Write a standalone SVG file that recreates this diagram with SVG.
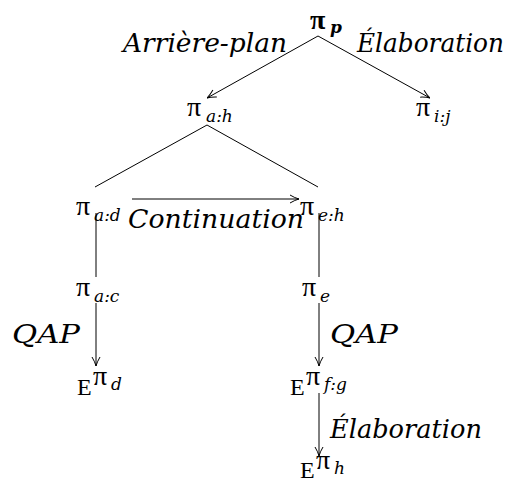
<svg xmlns="http://www.w3.org/2000/svg" width="511" height="482" viewBox="0 0 511 482">
<style>
text{font-family:'Liberation Serif','Times New Roman',serif;fill:#000}
.lab{font-family:'DejaVu Serif',serif;font-style:italic;font-size:26px}
.pi{font-size:28px}
.sub{font-family:'DejaVu Serif',serif;font-style:italic;font-size:17px}
.E{font-size:24px}
.c{stroke:#000;stroke-width:1;fill:none}
</style>
<defs>
<marker id="ah" viewBox="0 0 10 10" refX="10" refY="5" markerWidth="10" markerHeight="10" markerUnits="userSpaceOnUse" orient="auto">
<path d="M1,1 Q6,4 10,5 Q6,6 1,9" fill="none" stroke="#000" stroke-width="1"/>
</marker>
</defs>
<g id="connectors">
<line class="c" x1="318" y1="36" x2="207" y2="98" marker-end="url(#ah)"/>
<line class="c" x1="318" y1="36" x2="430" y2="98" marker-end="url(#ah)"/>
<line class="c" x1="207" y1="125" x2="95" y2="187"/>
<line class="c" x1="207" y1="125" x2="318" y2="187"/>
<line class="c" x1="132" y1="199" x2="299" y2="199" marker-end="url(#ah)"/>
<line class="c" x1="96" y1="213" x2="96" y2="277"/>
<line class="c" x1="319" y1="213" x2="319" y2="277"/>
<line class="c" x1="96" y1="303" x2="96" y2="366" marker-end="url(#ah)"/>
<line class="c" x1="319" y1="303" x2="319" y2="366" marker-end="url(#ah)"/>
<line class="c" x1="319" y1="393" x2="319" y2="456" marker-end="url(#ah)"/>
<text class="lab" x="123" y="52" textLength="164" lengthAdjust="spacingAndGlyphs">Arrière-plan</text>
<text class="lab" x="357" y="52" textLength="147" lengthAdjust="spacingAndGlyphs">Élaboration</text>
<text class="lab" x="128" y="228" textLength="176" lengthAdjust="spacingAndGlyphs">Continuation</text>
<text class="lab" x="12" y="343" textLength="68" lengthAdjust="spacingAndGlyphs">QAP</text>
<text class="lab" x="330" y="343" textLength="68" lengthAdjust="spacingAndGlyphs">QAP</text>
<text class="lab" x="330" y="438" textLength="152" lengthAdjust="spacingAndGlyphs">Élaboration</text>
</g>
<g id="n_p"><text class="pi" x="310" y="29" font-weight="bold">π</text><text class="sub" x="330" y="33" font-weight="bold">p</text></g>
<g id="n_ah"><text class="pi" x="187" y="116">π</text><text class="sub" x="206" y="122">a:h</text></g>
<g id="n_ij"><text class="pi" x="416" y="116">π</text><text class="sub" x="434" y="122">i:j</text></g>
<g id="n_ad"><text class="pi" x="76" y="215">π</text><text class="sub" x="94" y="221">a:d</text></g>
<g id="n_eh"><text class="pi" x="300" y="215">π</text><text class="sub" x="318" y="221">e:h</text></g>
<g id="n_ac"><text class="pi" x="76" y="296">π</text><text class="sub" x="94" y="302">a:c</text></g>
<g id="n_e"><text class="pi" x="302" y="296">π</text><text class="sub" x="320" y="302">e</text></g>
<g id="n_d"><text class="E" x="77" y="395">E</text><text class="pi" x="93" y="385">π</text><text class="sub" x="111" y="390">d</text></g>
<g id="n_fg"><text class="E" x="290" y="395">E</text><text class="pi" x="306" y="385">π</text><text class="sub" x="324" y="390">f:g</text></g>
<g id="n_h"><text class="E" x="300" y="478">E</text><text class="pi" x="316" y="469">π</text><text class="sub" x="334" y="474">h</text></g>
</svg>
